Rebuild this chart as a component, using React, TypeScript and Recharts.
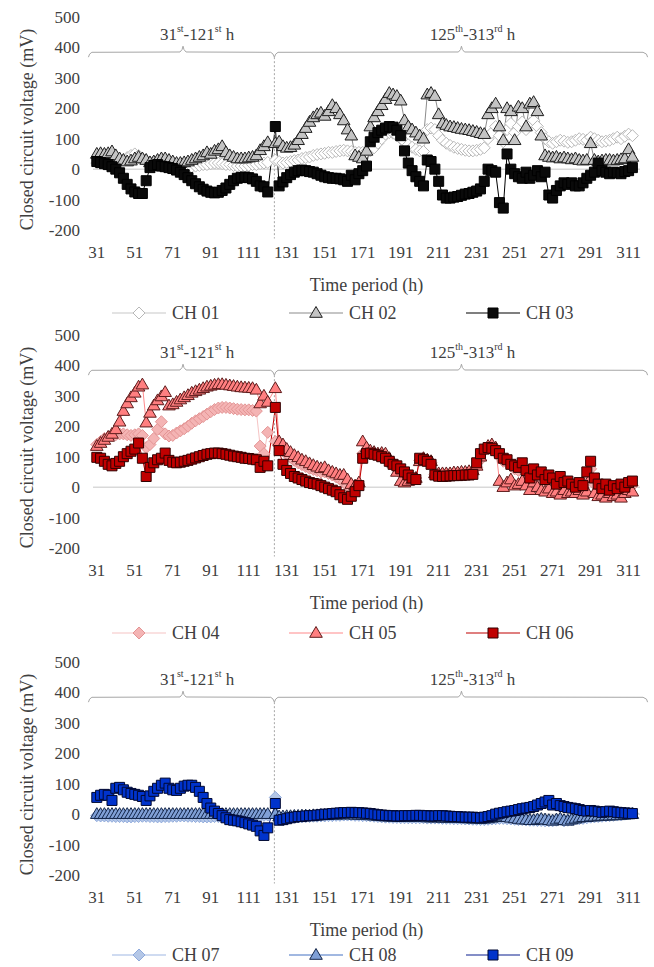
import React from 'react';
import { LineChart, Line, XAxis, YAxis, CartesianGrid, ReferenceLine, ReferenceDot } from 'recharts';

// ---------- categories (hours) ----------
const HOURS_A = [31, 33, 35, 37, 39, 41, 43, 45, 47, 49, 51, 53, 55, 57, 59, 61, 63, 65, 67, 69, 71, 73, 75, 77, 79, 81, 83, 85, 87, 89, 91, 93, 95, 97, 99, 101, 103, 105, 107, 109, 111, 113, 115, 117, 119, 121];
const HOURS_B = [125, 127, 129, 131, 133, 135, 137, 139, 141, 143, 145, 147, 149, 151, 153, 155, 157, 159, 161, 163, 165, 167, 169, 171, 173, 175, 177, 179, 181, 183, 185, 187, 189, 191, 193, 195, 197, 199, 201, 203, 205, 207, 209, 211, 213, 215, 217, 219, 221, 223, 225, 227, 229, 231, 233, 235, 237, 239, 241, 243, 245, 247, 249, 251, 253, 255, 257, 259, 261, 263, 265, 267, 269, 271, 273, 275, 277, 279, 281, 283, 285, 287, 289, 291, 293, 295, 297, 299, 301, 303, 305, 307, 309, 311, 313];

// ---------- series values (mV) ----------
const CH01_A = [20, 20, 22, 20, 18, 20, 25, 30, 38, 45, 50, 45, 35, 25, 22, 25, 28, 25, 20, 15, 12, 10, 8, 5, 5, 8, 10, 12, 15, 15, 18, 20, 20, 18, 15, 15, 12, 10, 10, 10, 12, 15, 15, 18, 20, 22];
const CH01_B = [30, 25, 20, 22, 25, 28, 30, 35, 38, 40, 45, 48, 50, 52, 55, 55, 58, 60, 62, 60, 58, 55, 55, 55, 58, 60, 70, 85, 100, 115, 120, 118, 110, 100, 90, 80, 72, 65, 60, 58, 130, 135, 130, 110, 95, 85, 78, 72, 68, 65, 62, 60, 60, 62, 65, 70, 100, 120, 140, 110, 90, 130, 150, 120, 140, 155, 130, 150, 160, 140, 120, 100, 90, 85, 90, 95, 92, 88, 90, 95, 100, 98, 95, 105, 100, 95, 90, 92, 95, 100, 105, 100, 108, 115, 110];
const CH02_A = [50, 52, 50, 52, 58, 45, 35, 30, 25, 28, 35, 40, 35, 30, 22, 25, 30, 35, 35, 30, 25, 20, 20, 22, 25, 30, 35, 40, 45, 55, 50, 60, 65, 75, 55, 45, 40, 35, 35, 35, 38, 40, 45, 62, 75, 88];
const CH02_B = [85, 90, 75, 70, 72, 80, 95, 115, 135, 155, 170, 180, 185, 175, 190, 210, 200, 180, 160, 130, 110, 45, 40, 35, 60, 140, 170, 190, 210, 230, 250, 245, 240, 225, 160, 140, 130, 120, 110, 100, 245, 250, 240, 180, 150, 145, 140, 138, 135, 132, 130, 128, 125, 122, 118, 115, 180, 200, 215, 140, 95, 200, 190, 95, 205, 200, 140, 215, 220, 190, 110, 45, 40, 38, 40, 35, 38, 35, 32, 35, 30, 28, 30, 85, 30, 25, 28, 30, 30, 28, 30, 32, 35, 65, 40];
const CH03_A = [25, 22, 18, 15, 8, 0, -12, -30, -50, -65, -75, -80, -80, -38, 5, 12, 15, 10, 8, 5, 2, -3, -10, -18, -28, -38, -48, -58, -66, -72, -76, -78, -76, -70, -62, -50, -38, -30, -27, -26, -28, -32, -40, -55, -58, -75];
const CH03_B = [140, -55, -42, -28, -18, -10, -5, -3, -5, -8, -10, -15, -20, -25, -28, -30, -30, -32, -35, -40, -20, -35, -15, -5, 10, 90, 105, 120, 128, 135, 140, 138, 128, 110, 60, 20, -5, -25, -40, -55, 30, 25, 0, -40, -85, -95, -95, -92, -90, -86, -82, -80, -76, -72, -65, -40, 0, -5, -10, -110, -128, 50, 0, -15, -25, -30, -10, -30, -20, -5, -25, -10, -85, -95, -70, -55, -45, -50, -45, -55, -55, -45, -30, -20, -10, 20, -5, -10, -15, -10, -12, -15, -8, -5, 5];
const CH04_A = [140, 150, 160, 165, 170, 172, 175, 175, 172, 170, 172, 175, 170, 130, 140, 160, 190, 215, 175, 168, 170, 178, 185, 192, 200, 210, 218, 225, 232, 240, 248, 255, 260, 262, 262, 260, 258, 256, 255, 254, 254, 252, 250, 135, 110, 180];
const CH04_B = [150, 135, 120, 108, 98, 88, 80, 74, 68, 62, 58, 54, 50, 50, 45, 40, 34, 26, 16, 4, -5, 0, 10, 110, 115, 112, 110, 108, 105, 100, 90, 80, 65, 45, 30, 25, 28, 30, 88, 92, 88, 80, 42, 42, 42, 43, 44, 45, 45, 46, 47, 48, 50, 65, 90, 120, 130, 135, 125, 100, 85, 80, 70, 60, 55, 60, 45, 25, 45, 30, 30, 15, 25, 10, 0, 15, 5, 5, 0, -5, 5, -5, 30, 60, 10, -10, -15, -5, -15, -10, -15, -5, -10, 5, 5];
const CH05_A = [135, 145, 155, 165, 175, 190, 215, 250, 275, 295, 310, 330, 337, 212, 244, 268, 285, 298, 312, 268, 272, 280, 288, 295, 302, 310, 315, 320, 325, 330, 333, 336, 338, 338, 336, 334, 332, 330, 328, 327, 326, 325, 320, 275, 300, 280];
const CH05_B = [325, 150, 140, 125, 115, 105, 98, 90, 85, 78, 72, 67, 62, 65, 55, 50, 45, 40, 40, 25, 10, 5, 15, 150, 130, 120, 115, 110, 112, 110, 95, 80, 50, 20, 15, 20, 25, 30, 85, 95, 90, 85, 45, 45, 45, 45, 45, 48, 48, 50, 50, 52, 55, 70, 100, 125, 135, 140, 130, 20, 0, 15, 25, 5, 10, 20, 5, -10, 15, 0, -10, -15, -5, -20, -15, -25, -10, -20, -15, -20, -10, -25, -15, 30, -20, -30, -25, -35, -20, -30, -25, -35, -20, -10, -15];
const CH06_A = [98, 95, 85, 75, 70, 78, 85, 100, 110, 118, 125, 145, 95, 35, 65, 80, 90, 95, 112, 88, 82, 80, 82, 85, 88, 92, 96, 100, 104, 108, 110, 112, 112, 110, 108, 105, 102, 100, 98, 95, 94, 92, 90, 65, 85, 70];
const CH06_B = [262, 120, 75, 55, 45, 35, 30, 25, 20, 15, 12, 10, 5, 0, -5, -10, -15, -25, -35, -40, -30, -15, 5, 95, 110, 112, 108, 105, 100, 95, 85, 75, 70, 60, 50, 40, 30, 25, 95, 90, 85, 75, 40, 36, 35, 36, 37, 38, 38, 39, 40, 40, 42, 80, 110, 125, 130, 128, 120, 110, 95, 90, 75, 70, 65, 80, 55, 30, 60, 40, 50, 25, 40, 30, 10, 35, 15, 20, 10, 0, 15, 5, 50, 85, 30, 10, -5, 10, -10, 5, -5, 10, 0, 15, 20];
const CH07_A = [-5, -6, -6, -7, -7, -8, -8, -8, -9, -9, -8, -8, -7, -7, -8, -8, -9, -9, -8, -8, -7, -7, -6, -6, -7, -7, -8, -8, -9, -9, -9, -8, -8, -7, -7, -6, -6, -7, -7, -8, -8, -7, -6, -5, -4, -3];
const CH07_B = [55, -12, -12, -11, -10, -10, -9, -9, -8, -8, -7, -7, -6, -6, -5, -5, -4, -4, -3, -3, -3, -4, -4, -5, -5, -6, -7, -8, -9, -10, -10, -11, -11, -12, -12, -12, -12, -12, -12, -12, -13, -13, -13, -13, -14, -14, -14, -15, -15, -15, -16, -16, -17, -17, -18, -18, -17, -16, -15, -14, -14, -15, -16, -17, -18, -18, -19, -20, -20, -21, -21, -22, -22, -22, -20, -18, -22, -20, -18, -16, -15, -14, -12, -10, -9, -8, -7, -6, -5, -4, -3, -2, 0, 2, 3];
const CH08_A = [0, 0, 0, 0, 0, 0, 0, 0, 0, 0, 0, 0, 0, 0, 0, 0, 0, 0, 0, 0, 0, 0, 0, 0, 0, 0, 0, 0, 0, 0, 0, 0, 0, 0, 0, 0, 0, 0, 0, 0, 0, 0, 0, 0, 0, 0];
const CH08_B = [0, -8, -8, -7, -7, -6, -6, -5, -5, -5, -4, -4, -3, -3, -2, -2, -2, -1, -1, -1, -1, -2, -2, -3, -3, -4, -5, -6, -7, -8, -8, -9, -9, -10, -10, -10, -10, -10, -10, -10, -11, -11, -11, -11, -12, -12, -12, -13, -13, -13, -14, -14, -15, -15, -16, -15, -14, -12, -10, -8, -8, -10, -12, -14, -16, -18, -18, -20, -20, -18, -16, -18, -20, -22, -18, -15, -20, -22, -18, -15, -12, -10, -10, -8, -8, -6, -6, -5, -5, -4, -4, -3, -2, -1, 0];
const CH09_A = [55, 62, 65, 62, 45, 85, 88, 80, 72, 68, 65, 62, 58, 45, 60, 75, 85, 95, 102, 85, 80, 78, 85, 92, 95, 95, 88, 75, 55, 35, 20, 10, 2, -5, -12, -18, -20, -22, -25, -28, -32, -36, -40, -55, -70, -45];
const CH09_B = [35, -20, -18, -15, -12, -10, -8, -8, -6, -5, -5, -3, -2, 0, 0, 2, 3, 4, 5, 5, 6, 5, 5, 4, 3, 2, 0, -2, -3, -4, -5, -5, -6, -6, -5, -5, -5, -4, -4, -5, -5, -6, -6, -5, -5, -6, -7, -8, -8, -9, -10, -10, -10, -11, -12, -10, -8, -5, 0, 3, 5, 8, 10, 12, 15, 18, 20, 22, 25, 30, 35, 40, 45, 30, 35, 28, 25, 22, 20, 18, 15, 12, 10, 12, 10, 8, 6, 8, 10, 8, 6, 5, 4, 3, 2];

// ---------- labels ----------
const SERIES_NAMES = ['CH 01', 'CH 02', 'CH 03', 'CH 04', 'CH 05', 'CH 06', 'CH 07', 'CH 08', 'CH 09'];
const X_TICKS = [31, 51, 71, 91, 111, 131, 151, 171, 191, 211, 231, 251, 271, 291, 311];
const Y_TICKS = [-200, -100, 0, 100, 200, 300, 400, 500];
const X_TITLE = 'Time period (h)';
const Y_TITLE = 'Closed circuit voltage (mV)';
const PERIOD_1 = [['31', 'st'], ['-121', 'st'], [' h', '']];
const PERIOD_2 = [['125', 'th'], ['-313', 'rd'], [' h', '']];

const HOURS = [...HOURS_A, ...HOURS_B];
const SERIES = [
  [...CH01_A, ...CH01_B], [...CH02_A, ...CH02_B], [...CH03_A, ...CH03_B],
  [...CH04_A, ...CH04_B], [...CH05_A, ...CH05_B], [...CH06_A, ...CH06_B],
  [...CH07_A, ...CH07_B], [...CH08_A, ...CH08_B], [...CH09_A, ...CH09_B],
];
const KEYS = ['ch01', 'ch02', 'ch03', 'ch04', 'ch05', 'ch06', 'ch07', 'ch08', 'ch09'];
const TABLE = HOURS.map((h, i) => {
  const row: any = { h };
  KEYS.forEach((k, s) => { row[k] = SERIES[s][i]; });
  return row;
});

// ---------- styles ----------
type Kind = 'diamond' | 'triangle' | 'square';
const STYLE: { line: string; fill: string; stroke: string; kind: Kind }[] = [
  { line: '#c8c8c8', fill: '#ffffff', stroke: '#b8b8b8', kind: 'diamond' },
  { line: '#8c8c8c', fill: '#c4c4c4', stroke: '#1e1e1e', kind: 'triangle' },
  { line: '#000000', fill: '#0a0a0a', stroke: '#000000', kind: 'square' },
  { line: '#f6c4c4', fill: '#f4b4b4', stroke: '#e39494', kind: 'diamond' },
  { line: '#ff8a8c', fill: '#ff7f80', stroke: '#5e1c1c', kind: 'triangle' },
  { line: '#c00000', fill: '#c00000', stroke: '#300000', kind: 'square' },
  { line: '#9fb8e3', fill: '#b4c7e7', stroke: '#8faadc', kind: 'diamond' },
  { line: '#4472c4', fill: '#7f9fd6', stroke: '#14264a', kind: 'triangle' },
  { line: '#0a1f8f', fill: '#0033cc', stroke: '#000830', kind: 'square' },
];

const FONT = 'Liberation Serif, Times New Roman, Tinos, DejaVu Serif, serif';
const TEXT = '#404040';

function markerPath(kind: Kind, cx: number, cy: number) {
  if (kind === 'square') return `M${cx - 5},${cy - 5}h10v10h-10Z`;
  if (kind === 'triangle') return `M${cx},${cy - 6.5}L${cx + 6.3},${cy + 4.3}L${cx - 6.3},${cy + 4.3}Z`;
  return `M${cx},${cy - 6}L${cx + 6},${cy}L${cx},${cy + 6}L${cx - 6},${cy}Z`;
}

const makeDot = (s: number) => (p: any) => {
  const st = STYLE[s];
  if (p.cx == null || p.cy == null) return <g key={`d${s}-${p.index}`} />;
  return <path key={`d${s}-${p.index}`} d={markerPath(st.kind, p.cx, p.cy)} fill={st.fill} stroke={st.stroke} strokeWidth={1} />;
};

// brace annotation geometry (data units)
const BRACE_LEFT = [[26.6, 368], [27.2, 378], [28.4, 384], [74.8, 385], [75.9, 393], [76.4, 404], [76.9, 393], [78, 385], [122.6, 384], [123.8, 378], [124.5, 368]];
const BRACE_RIGHT = [[124.5, 368], [125.2, 378], [126.4, 384], [221.4, 385], [222.5, 393], [223, 404], [223.5, 393], [224.6, 385], [318.6, 384], [320.4, 378], [321, 368]];

function periodLabel(parts: string[][]) {
  return (p: any) => (
    <text x={p.cx} y={p.cy} textAnchor="middle" dominantBaseline="central" fill={TEXT} fontFamily={FONT} fontSize={17}>
      {parts.map((pt, i) => (
        <React.Fragment key={i}>
          <tspan dy={i === 0 ? 0 : 6}>{pt[0]}</tspan>
          {pt[1] ? <tspan dy={-6} fontSize={10}>{pt[1]}</tspan> : null}
        </React.Fragment>
      ))}
    </text>
  );
}

const PANELS = [
  { series: [0, 1, 2], top: 0, legend: 313 },
  { series: [3, 4, 5], top: 318, legend: 633 },
  { series: [6, 7, 8], top: 645, legend: 955 },
];

function Panel({ series, top, legend }: { series: number[]; top: number; legend: number }) {
  const braces = [BRACE_LEFT, BRACE_RIGHT];
  return (
    <>
      <div style={{ position: 'absolute', left: 0, top }}>
        <LineChart width={654} height={300} data={TABLE} margin={{ top: 17, right: 14, bottom: 0, left: 0 }}>
          <CartesianGrid vertical={false} horizontalValues={[0]} stroke="#d9d9d9" strokeWidth={1.5} />
          <XAxis
            dataKey="h" type="number" domain={[29, 317]} ticks={X_TICKS} interval={0}
            axisLine={false} tickLine={false} tickSize={0} tickMargin={16} height={70}
            tick={{ fill: TEXT, fontFamily: FONT, fontSize: 17 }}
            label={{
              content: (p: any) => {
                const vb = p.viewBox;
                return <text x={vb.x + vb.width / 2} y={vb.y + 55} textAnchor="middle" dominantBaseline="central" fill={TEXT} fontFamily={FONT} fontSize={18}>{X_TITLE}</text>;
              },
            }}
          />
          <YAxis
            type="number" domain={[-200, 500]} ticks={Y_TICKS} interval={0} width={93}
            axisLine={false} tickLine={false} tickSize={0} tickMargin={13}
            tick={{ fill: TEXT, fontFamily: FONT, fontSize: 17 }}
            label={{
              content: (p: any) => {
                const vb = p.viewBox;
                const cx = vb.x + 27;
                const cy = vb.y + vb.height / 2 + 6;
                return <text x={cx} y={cy} transform={`rotate(-90 ${cx} ${cy})`} textAnchor="middle" dominantBaseline="central" fill={TEXT} fontFamily={FONT} fontSize={18}>{Y_TITLE}</text>;
              },
            }}
          />
          {series.map((s) => (
            <Line
              key={KEYS[s]} dataKey={KEYS[s]} stroke={STYLE[s].line} strokeWidth={1}
              dot={makeDot(s)} activeDot={false} isAnimationActive={false}
            />
          ))}
          {braces.map((b, bi) => b.slice(1).map((pt, i) => (
            <ReferenceLine key={`b${bi}-${i}`} segment={[{ x: b[i][0], y: b[i][1] }, { x: pt[0], y: pt[1] }]} stroke="#a6a6a6" strokeWidth={1} ifOverflow="visible" />
          )))}
          <ReferenceLine segment={[{ x: 124.5, y: 368 }, { x: 124.5, y: -228 }]} stroke="#a6a6a6" strokeWidth={1} strokeDasharray="2 2" ifOverflow="visible" />
          <ReferenceDot x={83.8} y={444} r={1} ifOverflow="visible" shape={periodLabel(PERIOD_1)} />
          <ReferenceDot x={228.8} y={444} r={1} ifOverflow="visible" shape={periodLabel(PERIOD_2)} />
        </LineChart>
      </div>
      {series.map((s, i) => (
        <div key={`lg${s}`} style={{ position: 'absolute', left: 112 + i * 177, top: legend - 11, height: 22, display: 'flex', alignItems: 'center', gap: 6 }}>
          <svg width={54} height={16}>
            <line x1={0} y1={8} x2={54} y2={8} stroke={STYLE[s].line} strokeWidth={1.2} />
            <path d={markerPath(STYLE[s].kind, 27, 8)} fill={STYLE[s].fill} stroke={STYLE[s].stroke} strokeWidth={1} />
          </svg>
          <span style={{ fontFamily: FONT, fontSize: 18, color: TEXT, whiteSpace: 'nowrap' }}>{SERIES_NAMES[s]}</span>
        </div>
      ))}
    </>
  );
}

export default function App() {
  return (
    <div style={{ position: 'absolute', left: 0, top: 0, width: 654, height: 967, background: '#ffffff', overflow: 'hidden' }}>
      {PANELS.map((p, i) => <Panel key={i} series={p.series} top={p.top} legend={p.legend} />)}
    </div>
  );
}
